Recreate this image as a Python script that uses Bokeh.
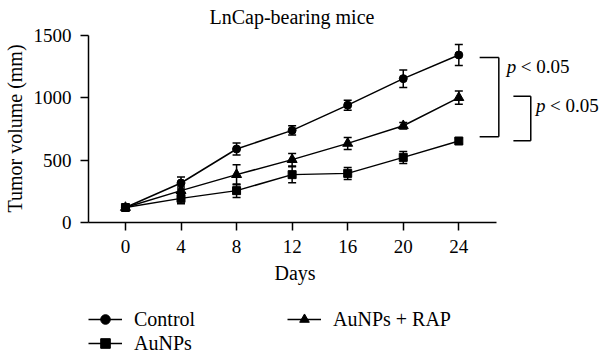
from bokeh.plotting import figure
from bokeh.layouts import column
from bokeh.models import (ColumnDataSource, Whisker, TeeHead, Legend, LegendItem,
                          Label, FixedTicker, Range1d, Title)
from bokeh.embed import file_html
from bokeh.resources import INLINE

# ---- data ----
days = [0, 4, 8, 12, 16, 20, 24]
control = [120, 316, 588, 737, 939, 1151, 1340]
control_err = [10, 48, 48, 37, 40, 70, 84]
aunps = [120, 193, 255, 383, 393, 521, 652]
aunps_err = [10, 42, 54, 64, 48, 48, 20]
aunps_rap = [120, 255, 383, 503, 633, 774, 999]
aunps_rap_err = [10, 30, 80, 50, 48, 26, 53]
x_ticks = [0, 4, 8, 12, 16, 20, 24]
y_ticks = [0, 500, 1000, 1500]
series_names = ["Control", "AuNPs", "AuNPs + RAP"]
title_text = "LnCap-bearing mice"
x_label = "Days"
y_label = "Tumor volume (mm)"
p_text = "p"
p_rest = "< 0.05"
# significance brackets (day position range, lower / upper tumor volume)
brackets = [
    dict(x0=25.5, x1=26.88, lo=687, hi=1321),
    dict(x0=27.93, x1=29.18, lo=655, hi=1010),
]

FONT = "Liberation Serif"
W = 600
H_MAIN, H_LEG = 298, 55

p = figure(width=W, height=H_MAIN, output_backend="svg", toolbar_location=None,
           x_range=Range1d(-2.66, 34.2), y_range=Range1d(0, 1504),
           min_border_left=88, min_border_right=0, min_border_top=34,
           min_border_bottom=H_MAIN - 222)
p.title.text = title_text
p.title.align = "left"
p.title.offset = 121
p.title.vertical_align = "top"
p.title.text_font = FONT
p.title.text_font_size = "20px"
p.title.text_font_style = "normal"
p.title.text_color = "black"
p.title.standoff = 10
p.outline_line_color = None
p.grid.visible = False
p.background_fill_color = "white"
p.border_fill_color = "white"

# axes
xa = p.xaxis[0]
xa.ticker = FixedTicker(ticks=x_ticks)
xa.bounds = (-2.66, 26.73)
ya = p.yaxis[0]
ya.ticker = FixedTicker(ticks=y_ticks)
ya.bounds = (0, 1500)
for ax in (xa, ya):
    ax.axis_line_width = 1.5
    ax.axis_line_color = "black"
    ax.major_tick_line_width = 1.5
    ax.major_tick_line_color = "black"
    ax.major_tick_out = 8
    ax.major_tick_in = 0
    ax.minor_tick_line_color = None
    ax.major_label_text_font = FONT
    ax.major_label_text_font_size = "19px"
    ax.major_label_text_color = "black"
    ax.axis_label_text_font = FONT
    ax.axis_label_text_font_size = "20px"
    ax.axis_label_text_font_style = "normal"
    ax.axis_label_text_color = "black"
ya.axis_label = y_label
xa.major_label_standoff = 9
ya.major_label_standoff = 9
ya.axis_label_standoff = 5

# x-axis title placed under the axis, centred on the drawn axis span
p.add_layout(Title(text=x_label, align="left", offset=186, text_font=FONT,
                   text_font_size="20px", text_font_style="normal",
                   text_color="black", standoff=8), "below")

# series
styles = [
    (control, control_err, "circle", 8),
    (aunps, aunps_err, "square", 8),
    (aunps_rap, aunps_rap_err, "triangle", 10),
]
for vals, errs, marker, size in styles:
    src = ColumnDataSource(dict(
        x=days, y=vals,
        upper=[v + e for v, e in zip(vals, errs)],
        lower=[v - e for v, e in zip(vals, errs)],
    ))
    w = Whisker(source=src, base="x", upper="upper", lower="lower",
                line_width=1.5, line_color="black", level="glyph",
                upper_head=TeeHead(size=8, line_width=1.5, line_color="black"),
                lower_head=TeeHead(size=8, line_width=1.5, line_color="black"))
    p.add_layout(w)
    p.line("x", "y", source=src, line_width=1.5, line_color="black")
    p.scatter("x", "y", source=src, marker=marker, size=size,
              fill_color="black", line_color="black")

# brackets
for b in brackets:
    p.segment(x0=[b["x0"], b["x1"], b["x0"]], y0=[b["hi"], b["hi"], b["lo"]],
              x1=[b["x1"], b["x1"], b["x1"]], y1=[b["hi"], b["lo"], b["lo"]],
              line_width=1.5, line_color="black")

# p-value labels
for b, (lx, ly) in zip(brackets, [(27.45, 1245), (29.55, 938)]):
    p.add_layout(Label(x=lx, y=ly, text=p_text, text_font=FONT,
                       text_font_style="italic", text_font_size="19px",
                       text_baseline="middle", text_color="black"))
    p.add_layout(Label(x=lx, y=ly, x_offset=14, text=p_rest, text_font=FONT,
                       text_font_size="19px", text_baseline="middle",
                       text_color="black"))

# ---- legend strip below the chart ----
# the legend keys reuse the series data, drawn off-screen in this strip
q = figure(width=W, height=H_LEG, output_backend="svg", toolbar_location=None,
           x_range=Range1d(1000, 1001), y_range=Range1d(-1001, -1000),
           x_axis_location=None, y_axis_location=None,
           min_border_left=0, min_border_right=0, min_border_top=0,
           min_border_bottom=0)
q.title.text = ""
q.outline_line_color = None
q.grid.visible = False
items = []
for name, (vals, _, marker, size) in zip(series_names, styles):
    lr = q.line(x=days, y=vals, line_width=1.5, line_color="black")
    sr = q.scatter(x=days, y=vals, marker=marker, size=size,
                   fill_color="black", line_color="black")
    items.append(LegendItem(label=name, renderers=[lr, sr]))

def make_legend(its, loc):
    return Legend(items=its, location=loc, orientation="vertical",
                  glyph_width=34, glyph_height=24, label_height=24,
                  label_standoff=12, spacing=0, padding=0, margin=0,
                  border_line_color=None, background_fill_alpha=0,
                  label_text_font=FONT, label_text_font_size="20px",
                  label_text_color="black")

q.add_layout(make_legend(items[:2], (0, -2)))
q.add_layout(make_legend(items[2:], (199, 22)))

layout = column(p, q, spacing=0)
open("out.html", "w").write(file_html(layout, INLINE))
